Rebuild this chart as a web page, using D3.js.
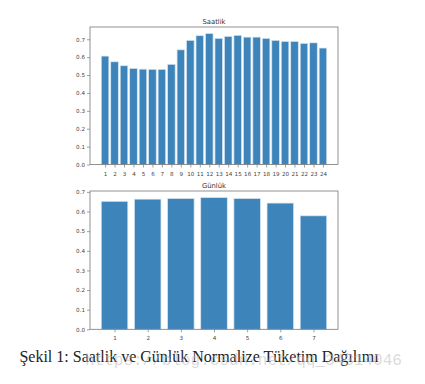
<!DOCTYPE html>
<html>
<head>
<meta charset="utf-8">
<script src="https://cdn.jsdelivr.net/npm/d3@7"></script>
<style>
  body { margin: 0; background: #fff; }
  svg { display: block; }
</style>
</head>
<body>
<svg id="chart" width="425" height="384"></svg>
<script>
// hourly values (Saatlik)
const hours = d3.range(1, 25);
const hourlyValues = [0.606, 0.574, 0.552, 0.537, 0.533, 0.532, 0.532, 0.560, 0.641, 0.694,
  0.720, 0.732, 0.705, 0.716, 0.722, 0.712, 0.712, 0.705, 0.694, 0.688, 0.688, 0.677, 0.680, 0.651];
// daily values (Günlük)
const days = [1, 2, 3, 4, 5, 6, 7];
const dailyValues = [0.652, 0.663, 0.666, 0.671, 0.666, 0.643, 0.578];
const yTicks = [0, 0.1, 0.2, 0.3, 0.4, 0.5, 0.6, 0.7];

const barColor = "#3d84bb";
const axisColor = "#777";

const svg = d3.select("#chart");

function drawPanel(cats, vals, title, box) {
  const g = svg.append("g");

  // matplotlib style limits: bar width 0.8, 5% margins
  const lo = cats[0] - 0.4, hi = cats[cats.length - 1] + 0.4;
  const pad = (hi - lo) * 0.05;
  const x = d3.scaleLinear().domain([lo - pad, hi + pad]).range([box.x, box.x + box.w]);
  const y = d3.scaleLinear().domain([0, d3.max(vals) * 1.05]).range([box.y + box.h, box.y]);

  g.selectAll("rect.bar")
    .data(cats)
    .enter().append("rect")
    .attr("class", "bar")
    .attr("x", (d) => x(d - 0.4))
    .attr("width", (d) => x(d + 0.4) - x(d - 0.4))
    .attr("y", (d, i) => y(vals[i]))
    .attr("height", (d, i) => y(0) - y(vals[i]))
    .attr("fill", barColor)
    .attr("stroke", "#d6e4f0")
    .attr("stroke-width", 0.7);

  // frame
  g.append("rect")
    .attr("x", box.x).attr("y", box.y)
    .attr("width", box.w).attr("height", box.h)
    .attr("fill", "none")
    .attr("stroke", axisColor)
    .attr("stroke-width", 0.8);

  const xAxis = g.append("g")
    .attr("transform", `translate(0,${box.y + box.h})`)
    .call(d3.axisBottom(x).tickValues(cats).tickSize(3).tickFormat(d3.format("d")));
  const yAxis = g.append("g")
    .attr("transform", `translate(${box.x},0)`)
    .call(d3.axisLeft(y).tickValues(yTicks).tickSize(3).tickFormat(d3.format(".1f")));

  [xAxis, yAxis].forEach((a) => {
    a.select(".domain").remove();
    a.selectAll("line").attr("stroke", axisColor).attr("stroke-width", 0.7);
    a.selectAll("text")
      .attr("fill", "#444")
      .style("font-family", "DejaVu Sans, sans-serif")
      .style("font-size", "5.6px");
  });
  xAxis.selectAll("text").attr("dy", "0.9em");
  yAxis.selectAll("text").attr("x", -5);

  g.append("text")
    .attr("x", box.x + box.w / 2)
    .attr("y", box.y - 3.5)
    .attr("text-anchor", "middle")
    .attr("fill", "#333")
    .style("font-family", "DejaVu Sans, sans-serif")
    .style("font-size", "6.8px")
    .text(title);
}

drawPanel(hours, hourlyValues, "Saatlik", { x: 90, y: 27, w: 248, h: 137.5 });
drawPanel(days, dailyValues, "Günlük", { x: 90, y: 191, w: 248, h: 138.3 });

// figure caption
svg.append("text")
  .attr("x", 199)
  .attr("y", 362)
  .attr("text-anchor", "middle")
  .attr("fill", "#222")
  .style("font-family", "Liberation Serif, serif")
  .style("font-size", "16px")
  .text("Şekil 1: Saatlik ve Günlük Normalize Tüketim Dağılımı");

// watermark
svg.append("text")
  .attr("x", 85)
  .attr("y", 365)
  .attr("fill", "#bbb")
  .attr("fill-opacity", 0.55)
  .style("font-family", "Liberation Mono, monospace")
  .style("font-size", "16px")
  .text("https://blog.csdn.net/qq_34314046");
</script>
</body>
</html>
